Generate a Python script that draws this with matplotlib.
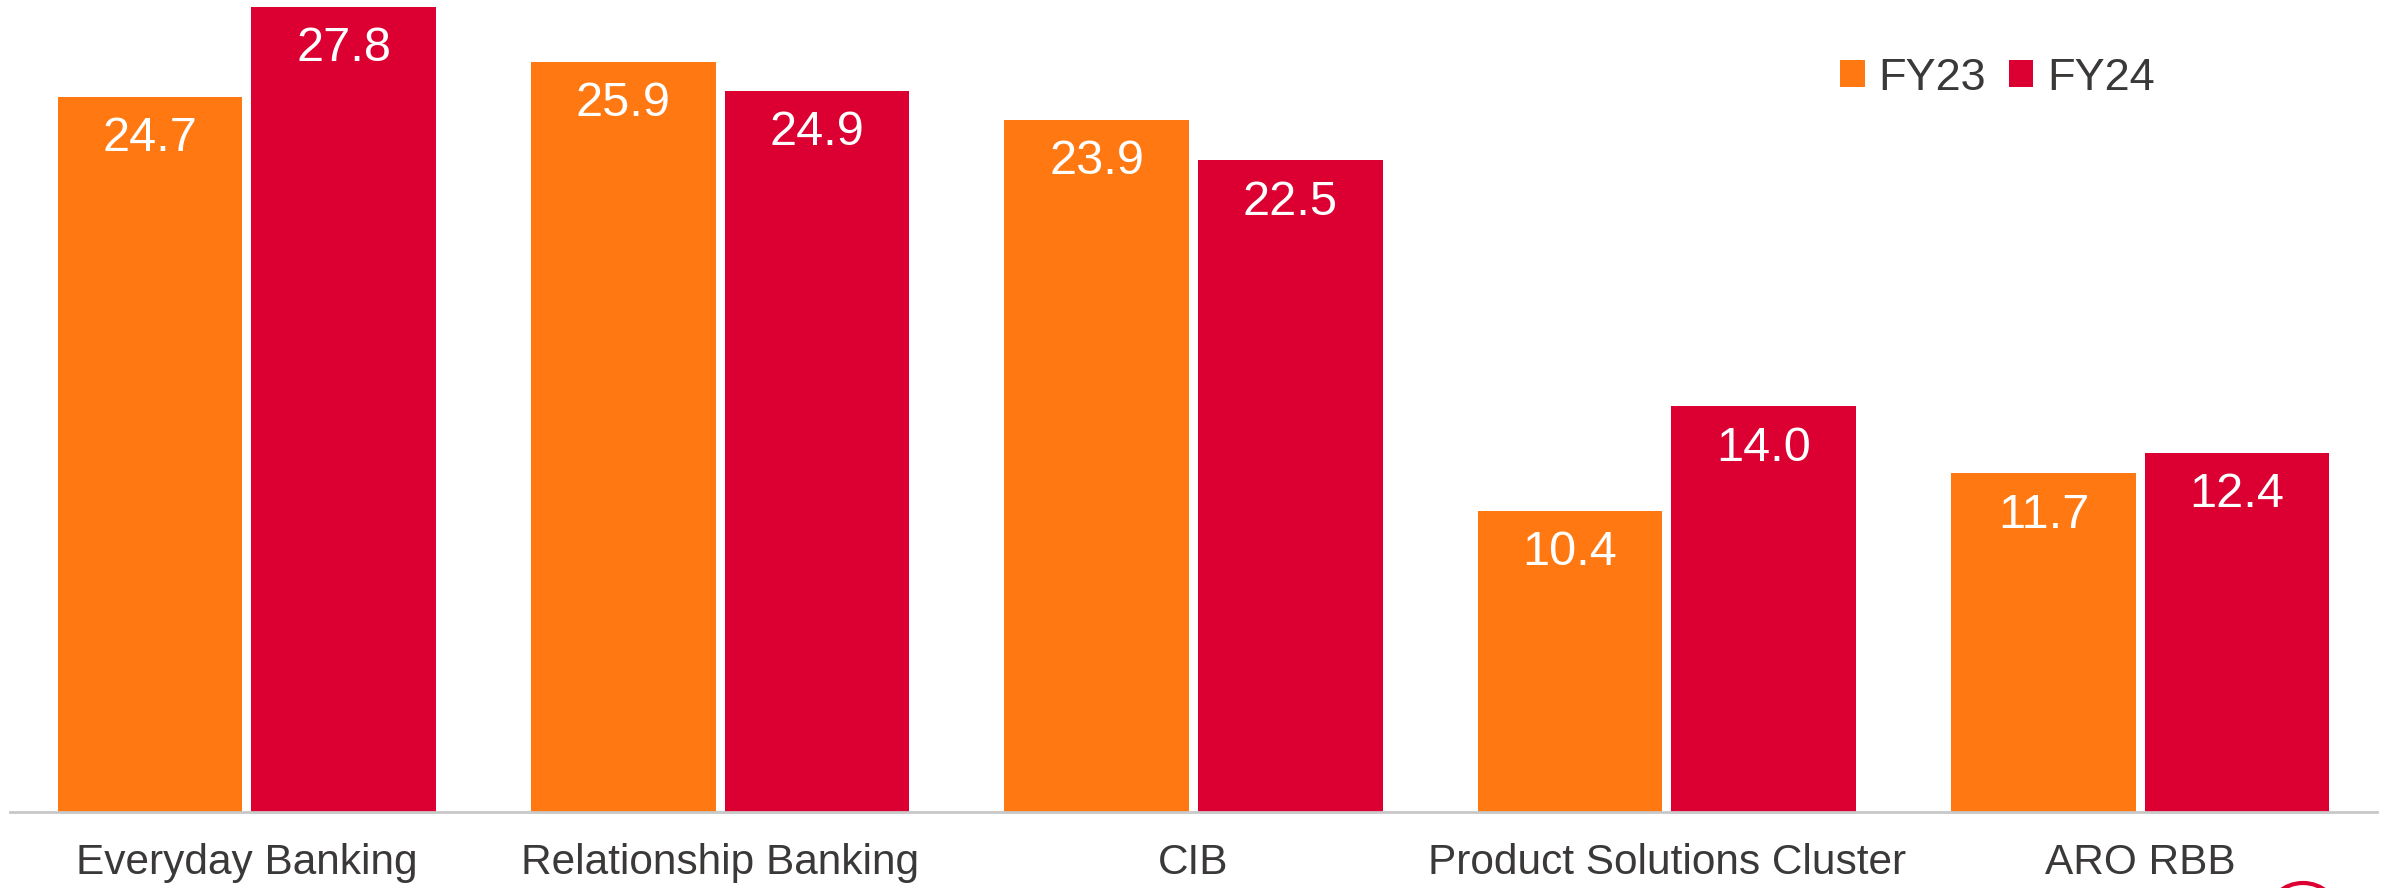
import matplotlib.pyplot as plt
from matplotlib.patches import Patch, Arc
import numpy as np

plt.rcParams['font.family'] = ['Liberation Sans', 'DejaVu Sans']

# Segment revenue by year
categories = ['Everyday Banking', 'Relationship Banking', 'CIB',
              'Product Solutions Cluster', 'ARO RBB']
fy23 = [24.7, 25.9, 23.9, 10.4, 11.7]
fy24 = [27.8, 24.9, 22.5, 14.0, 12.4]
series_names = ['FY23', 'FY24']

ORANGE = '#FF7811'
RED = '#DC0032'
TEXT = '#3B3838'

W, H = 2389, 888
fig = plt.figure(figsize=(W / 100, H / 100), dpi=100)
fig.patch.set_facecolor('white')

# axes placed so the baseline sits at y=812px and x spans 10..2377px
ax = fig.add_axes([10 / W, 76 / H, 2367 / W, 811 / H])

x = np.arange(len(categories))
bw = 0.39
gap = 0.019
b1 = ax.bar(x - bw / 2 - gap / 2, fy23, width=bw, color=ORANGE)
b2 = ax.bar(x + bw / 2 + gap / 2, fy24, width=bw, color=RED)

ax.set_xlim(-0.5, len(categories) - 0.5)
ax.set_ylim(0, 28.0)

# value labels just inside the top of each bar
px_per_unit = 811 / 28.0
for bars, vals in ((b1, fy23), (b2, fy24)):
    for bar, v in zip(bars, vals):
        ax.text(bar.get_x() + bar.get_width() / 2, v - 42 / px_per_unit,
                f'{v:.1f}', ha='center', va='center', color='white', fontsize=35)

for s in ('top', 'right', 'left'):
    ax.spines[s].set_visible(False)
ax.spines['bottom'].set_color('#C8C8C8')
ax.spines['bottom'].set_linewidth(2)
ax.set_yticks([])
ax.set_xticks(x)
ax.set_xticklabels(categories, fontsize=30.5, color=TEXT)
ax.tick_params(axis='x', length=0, pad=22)

handles = [Patch(facecolor=ORANGE), Patch(facecolor=RED)]
fig.legend(handles, series_names, loc='center left',
           bbox_to_anchor=(1840 / W, 1 - 78 / H), bbox_transform=fig.transFigure,
           ncol=2, frameon=False, fontsize=32.5, labelcolor=TEXT,
           handlelength=0.55, handleheight=0.55, handletextpad=0.3,
           columnspacing=0.5, borderpad=0, borderaxespad=0)

# partial logo ring at the lower right edge
fig.add_artist(Arc((2303 / W, 1 - 915 / H), 70 / W, 64 / H, theta1=0, theta2=180,
                   transform=fig.transFigure, color=RED, linewidth=3))

fig.savefig('out.png', dpi=100, facecolor='white')
